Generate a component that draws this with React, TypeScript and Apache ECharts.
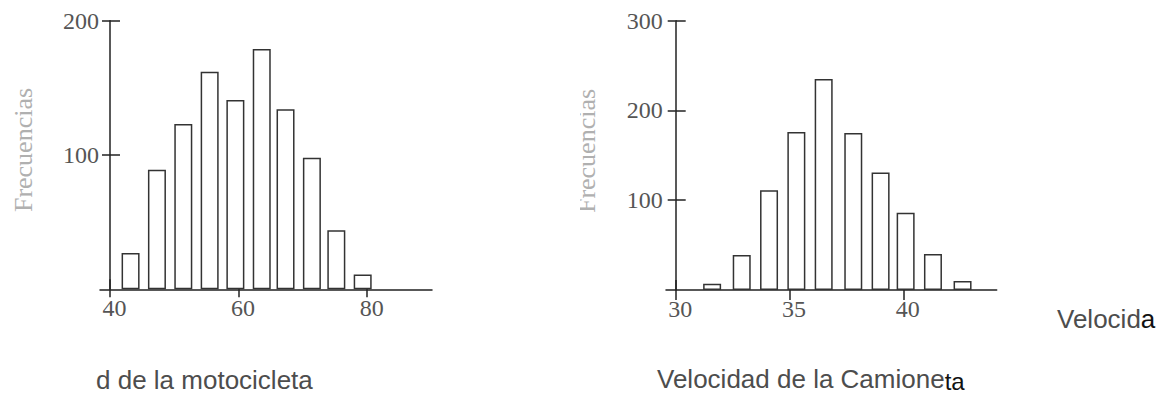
import React, { useEffect, useRef } from "react";
import * as echarts from "echarts";

// Motocicleta histogram
const motoCenters = [43.2, 47.3, 51.4, 55.5, 59.5, 63.6, 67.3, 71.4, 75.2, 79.3];
const motoFreq = [27, 89, 123, 162, 141, 179, 134, 98, 44, 11];
const motoXTicks = [40, 60, 80];
const motoYTicks = [100, 200];

// Camioneta histogram
const camCenters = [31.6, 32.9, 34.1, 35.3, 36.5, 37.8, 39.0, 40.1, 41.3, 42.6];
const camFreq = [7, 39, 111, 176, 235, 175, 131, 86, 40, 10];
const camXTicks = [30, 35, 40];
const camYTicks = [100, 200, 300];

const yTitle = "Frecuencias";
const motoTitle = "d de la motocicleta";
const camTitleMain = "Velocidad de la Camione";
const camTitleEnd = "ta";
const sideTitleMain = "Velocid";
const sideTitleEnd = "a";

const SERIF = "'Liberation Serif', 'DejaVu Serif', serif";
const SANS = "'Liberation Sans', Arial, sans-serif";
const AXIS = "#222";
const LABEL = "#555";

function xAxes(gridIndex: number, min: number, max: number, ticks: number[], inLen: number, outLen: number) {
  return [
    {
      type: "value", gridIndex, position: "bottom", min, max,
      splitLine: { show: false },
      axisLine: { show: true, lineStyle: { color: AXIS, width: 1.5 } },
      axisTick: { show: true, customValues: ticks, length: outLen, lineStyle: { color: AXIS, width: 1.5 } },
      axisLabel: { show: true, customValues: ticks, margin: 7, padding: [0, 0, 0, 9],
        fontFamily: SERIF, fontSize: 24, color: LABEL },
    },
    {
      type: "value", gridIndex, position: "bottom", min, max,
      splitLine: { show: false },
      axisLine: { show: false },
      axisTick: { show: true, inside: true, customValues: ticks, length: inLen, lineStyle: { color: AXIS, width: 1.5 } },
      axisLabel: { show: false },
    },
  ];
}

function yAxes(gridIndex: number, max: number, ticks: number[], offset: number, margin: number) {
  return [
    {
      type: "value", gridIndex, position: "left", min: 0, max, offset,
      splitLine: { show: false },
      axisLine: { show: true, lineStyle: { color: AXIS, width: 1.5 } },
      axisTick: { show: true, customValues: ticks, length: 8, lineStyle: { color: AXIS, width: 1.5 } },
      axisLabel: { show: true, customValues: ticks, margin, padding: [12, 0, 0, 0],
        fontFamily: SERIF, fontSize: 24, color: LABEL },
    },
    {
      type: "value", gridIndex, position: "left", min: 0, max, offset,
      splitLine: { show: false },
      axisLine: { show: false },
      axisTick: { show: true, inside: true, customValues: ticks, length: 10, lineStyle: { color: AXIS, width: 1.5 } },
      axisLabel: { show: false },
    },
  ];
}

export default function App() {
  const ref = useRef<HTMLDivElement>(null);

  useEffect(() => {
    if (!ref.current) return;
    const chart = echarts.init(ref.current, null, { renderer: "svg" });
    const barStyle = { color: "#ffffff", borderColor: "#333", borderWidth: 1.5 };
    chart.setOption({
      animation: false,
      backgroundColor: "#ffffff",
      grid: [
        { left: 100, top: 20.7, width: 332, height: 268.6 },
        { left: 666, top: 20.7, width: 330.7, height: 269.3 },
      ],
      xAxis: [
        ...xAxes(0, 38.445, 90.08, motoXTicks, 10, 8),
        ...xAxes(1, 29.574, 44.1, camXTicks, 10, 10),
      ],
      yAxis: [
        ...yAxes(0, 200, motoYTicks, -10, 11),
        ...yAxes(1, 300, camYTicks, -9.7, 13),
      ],
      series: [
        {
          type: "bar", xAxisIndex: 0, yAxisIndex: 0, barWidth: 18,
          data: motoCenters.map((c, i) => [c, motoFreq[i]]),
          itemStyle: barStyle, silent: true,
        },
        {
          type: "bar", xAxisIndex: 2, yAxisIndex: 2, barWidth: 18,
          data: camCenters.map((c, i) => [c, camFreq[i]]),
          itemStyle: barStyle, silent: true,
        },
      ],
      graphic: [
        {
          type: "text", x: 23, y: 150, rotation: Math.PI / 2,
          style: { text: yTitle, fontFamily: SERIF, fontSize: 26, fill: "#b0b0b0",
            textAlign: "center", textVerticalAlign: "middle" },
        },
        {
          type: "text", x: 586, y: 151, rotation: Math.PI / 2,
          style: { text: yTitle, fontFamily: SERIF, fontSize: 26, fill: "#b0b0b0",
            textAlign: "center", textVerticalAlign: "middle" },
        },
        {
          type: "rect", shape: { x: 555, y: 60, width: 25, height: 190 },
          style: { fill: "#ffffff" }, silent: true,
        },
        {
          type: "text", x: 96, y: 393,
          style: { text: motoTitle, fontFamily: SANS, fontSize: 26, fill: "#4d4d4d",
            textAlign: "left", textVerticalAlign: "bottom" },
        },
        {
          type: "text", x: 657, y: 393,
          style: {
            text: camTitleMain + "{b|" + camTitleEnd + "}", fontFamily: SANS, fontSize: 26, fill: "#4d4d4d",
            textAlign: "left", textVerticalAlign: "bottom",
            rich: { b: { fontFamily: SANS, fontSize: 24, fill: "#111", padding: [4, 0, 0, 0] } },
          },
        },
        {
          type: "text", x: 1057, y: 332,
          style: {
            text: sideTitleMain + "{b|" + sideTitleEnd + "}", fontFamily: SANS, fontSize: 26, fill: "#4d4d4d",
            textAlign: "left", textVerticalAlign: "bottom",
            rich: { b: { fontFamily: SANS, fontSize: 26, fill: "#111" } },
          },
        },
      ],
    });
    return () => chart.dispose();
  }, []);

  return (
    <div
      ref={ref}
      style={{ position: "fixed", left: 0, top: 0, width: 1161, height: 398 }}
    />
  );
}
